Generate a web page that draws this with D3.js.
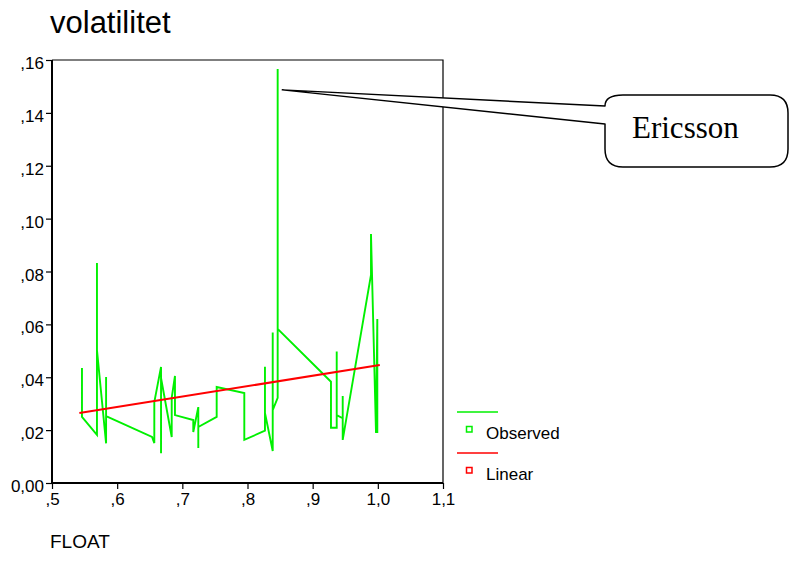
<!DOCTYPE html>
<html>
<head>
<meta charset="utf-8">
<script src="https://cdn.jsdelivr.net/npm/d3@7"></script>
<style>
  body { margin: 0; background: #fff; }
  text { font-family: "Liberation Sans", Arial, sans-serif; fill: #000; }
</style>
</head>
<body>
<script>
// observed series, in the order the line is drawn (FLOAT vs volatilitet)
var floatVals = [0.546, 0.546, 0.569, 0.569, 0.569, 0.583, 0.583, 0.583, 0.6535, 0.657, 0.657,
  0.6673, 0.6673, 0.6673, 0.6837, 0.6837, 0.6887, 0.6887, 0.7168, 0.7168, 0.7245, 0.7245, 0.7245,
  0.7527, 0.7527, 0.7951, 0.7951, 0.8268, 0.8268, 0.8268, 0.8387, 0.8387, 0.8387, 0.8463, 0.8463,
  0.8463, 0.9281, 0.9281, 0.9369, 0.9369, 0.9369, 0.9461, 0.9461, 0.9461, 0.9895, 0.9895, 0.9972,
  0.9992, 0.9992];
var volVals = [0.0435, 0.0250, 0.0182, 0.0832, 0.0503, 0.0150, 0.0401, 0.0253, 0.0174, 0.0151, 0.0306,
  0.0439, 0.0113, 0.0397, 0.0174, 0.0322, 0.0405, 0.0257, 0.0238, 0.0193, 0.0287, 0.0132, 0.0212,
  0.0250, 0.0363, 0.0340, 0.0163, 0.0198, 0.0440, 0.0265, 0.0121, 0.0569, 0.0276, 0.0322, 0.1566,
  0.0583, 0.0383, 0.0209, 0.0209, 0.0497, 0.0257, 0.0245, 0.0329, 0.0163, 0.0787, 0.0942, 0.0189,
  0.0620, 0.0189];

// linear fit line, read at its two ends
var linX = [0.542, 1.003];
var linY = [0.0265, 0.0446];

var xTicks = [0.5, 0.6, 0.7, 0.8, 0.9, 1.0, 1.1];
var xTickLabels = [",5", ",6", ",7", ",8", ",9", "1,0", "1,1"];
var yTicks = [0, 0.02, 0.04, 0.06, 0.08, 0.10, 0.12, 0.14, 0.16];
var yTickLabels = ["0,00", ",02", ",04", ",06", ",08", ",10", ",12", ",14", ",16"];

var w = 790, h = 562;
var margin = { top: 60, left: 52, right: 347, bottom: 79 };
var width = w - margin.left - margin.right;
var height = h - margin.top - margin.bottom;

var x = d3.scaleLinear().domain([0.5, 1.1]).range([0, width]);
var y = d3.scaleLinear().domain([0, 0.16]).range([height, 0]);

var svg = d3.select('body').append('svg')
  .attr('width', w)
  .attr('height', h);

svg.append('text')
  .attr('x', 50).attr('y', 33)
  .style('font-size', '31px')
  .text('volatilitet');

var chart = svg.append('g')
  .attr('transform', 'translate(' + margin.left + ',' + margin.top + ')');

// top and right frame (thin)
chart.append('path')
  .attr('d', 'M0,0H' + width + 'V' + height)
  .attr('fill', 'none')
  .attr('stroke', '#000')
  .attr('stroke-width', 1.2);

var xAxis = d3.axisBottom(x)
  .tickValues(xTicks)
  .tickSize(6)
  .tickFormat(function(d, i){ return xTickLabels[i]; });
var yAxis = d3.axisLeft(y)
  .tickValues(yTicks)
  .tickSize(6)
  .tickFormat(function(d, i){ return yTickLabels[i]; });

var gx = chart.append('g')
  .attr('transform', 'translate(0,' + height + ')')
  .call(xAxis);
var gy = chart.append('g').call(yAxis);

[gx, gy].forEach(function(g){
  g.select('.domain').attr('stroke', '#000').attr('stroke-width', 2);
  g.selectAll('.tick line').attr('stroke', '#000').attr('stroke-width', 1.2);
  g.selectAll('.tick text')
    .style('font-size', '17px')
    .style('font-family', '"Liberation Sans", Arial, sans-serif')
    .attr('fill', '#000');
});
gx.select('.domain').attr('d', 'M0,0H' + width);
gy.select('.domain').attr('d', 'M0,0V' + height);
gx.selectAll('.tick text').attr('y', 8).attr('dy', '0.85em');
gy.selectAll('.tick text').attr('x', -8).attr('dy', '0.5em');

var obs = floatVals.map(function(d, i){ return [d, volVals[i]]; });
var line = d3.line()
  .x(function(d){ return x(d[0]); })
  .y(function(d){ return y(d[1]); });

chart.append('path')
  .datum(obs)
  .attr('d', line)
  .attr('fill', 'none')
  .attr('stroke', '#00f000')
  .attr('stroke-width', 1.9)
  .attr('stroke-linejoin', 'miter');

chart.append('path')
  .datum(linX.map(function(d, i){ return [d, linY[i]]; }))
  .attr('d', line)
  .attr('fill', 'none')
  .attr('stroke', '#ff0000')
  .attr('stroke-width', 2);

// legend
var legend = svg.append('g');
var items = [
  { name: 'Observed', color: '#00f000', y: 412 },
  { name: 'Linear', color: '#ff0000', y: 453 }
];
items.forEach(function(it){
  legend.append('line')
    .attr('x1', 457).attr('x2', 498)
    .attr('y1', it.y).attr('y2', it.y)
    .attr('stroke', it.color).attr('stroke-width', 1.5);
  legend.append('rect')
    .attr('x', 466.5).attr('y', it.y + 14.5)
    .attr('width', 5.5).attr('height', 5.5)
    .attr('fill', 'none')
    .attr('stroke', it.color).attr('stroke-width', 1.5);
  legend.append('text')
    .attr('x', 486).attr('y', it.y + 26.5)
    .style('font-size', '17px')
    .text(it.name);
});

svg.append('text')
  .attr('x', 50).attr('y', 548)
  .style('font-size', '19px')
  .text('FLOAT');

// callout pointing at the Ericsson point
var tipX = margin.left + x(0.8535), tipY = margin.top + y(0.1487);
var bx = 605, by = 95, bw = 183, bh = 72, r = 18;
svg.append('path')
  .attr('d',
    'M' + tipX + ',' + tipY +
    'L' + bx + ',' + (by + 11) +
    'Q' + bx + ',' + by + ' ' + (bx + r) + ',' + by +
    'H' + (bx + bw - r) +
    'Q' + (bx + bw) + ',' + by + ' ' + (bx + bw) + ',' + (by + r) +
    'V' + (by + bh - r) +
    'Q' + (bx + bw) + ',' + (by + bh) + ' ' + (bx + bw - r) + ',' + (by + bh) +
    'H' + (bx + r) +
    'Q' + bx + ',' + (by + bh) + ' ' + bx + ',' + (by + bh - r) +
    'V' + (by + 29) +
    'Z')
  .attr('fill', '#fff')
  .attr('stroke', '#000')
  .attr('stroke-width', 1.5)
  .attr('stroke-linejoin', 'round');

svg.append('text')
  .attr('x', 632).attr('y', 138)
  .style('font-family', '"Liberation Serif", "Times New Roman", serif')
  .style('font-size', '31px')
  .text('Ericsson');
</script>
</body>
</html>
